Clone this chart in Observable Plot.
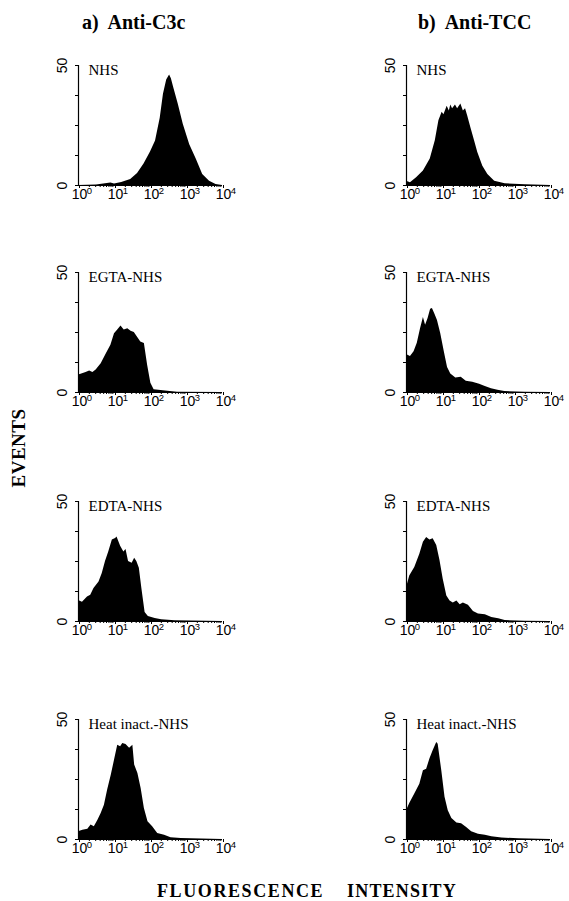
<!DOCTYPE html>
<html>
<head>
<meta charset="utf-8">
<script src="https://cdn.jsdelivr.net/npm/d3@7"></script>
<script src="https://cdn.jsdelivr.net/npm/@observablehq/plot@0.6"></script>
<style>
  html, body { margin: 0; padding: 0; background: #fff; }
  #page { position: relative; width: 569px; height: 901px; overflow: hidden; background: #fff; }
  .title { position: absolute; font-family: "Liberation Serif", "Times New Roman", serif; font-weight: bold; color: #000; white-space: pre; line-height: 1; }
  .panel { position: absolute; }
</style>
</head>
<body>
<div id="page"></div>
<script>
// ---- column / row categories ----
const columns = ["a)  Anti-C3c", "b)  Anti-TCC"];
const conditions = ["NHS", "EGTA-NHS", "EDTA-NHS", "Heat inact.-NHS"];
const xTitleWords = ["FLUORESCENCE", "INTENSITY"];
const yTitle = "EVENTS";

// ---- axis ticks ----
const majorTicks = [1, 10, 100, 1000, 10000];
const minorTicks = [2,3,4,5,6,7,8,9,20,30,40,50,60,70,80,90,200,300,400,500,600,700,800,900,2000,3000,4000,5000,6000,7000,8000,9000];
const yTicks = [0, 12.5, 25, 37.5, 50];
const yLabels = [0, 50];

// ---- series: x in decades (log10 fluorescence), y = events ----
const c3cNHS_x = [0, 0.5, 0.9, 1.0, 1.2, 1.45, 1.64, 1.82, 2.0, 2.14, 2.27, 2.36, 2.45, 2.53, 2.58, 2.64, 2.77, 2.91, 3.09, 3.27, 3.45, 3.64, 3.82, 4.0];
const c3cNHS_y = [0, 0.2, 1.0, 0.6, 1.2, 2.5, 5, 9, 14, 18.5, 28, 38, 44, 46, 44.5, 41, 34, 25.5, 17, 11, 4.6, 1.8, 0.4, 0];

const tccNHS_x = [0, 0.11, 0.28, 0.47, 0.66, 0.8, 0.9, 0.99, 1.04, 1.13, 1.19, 1.23, 1.28, 1.36, 1.42, 1.51, 1.58, 1.64, 1.7, 1.79, 1.89, 1.98, 2.12, 2.26, 2.45, 2.74, 3.3, 4.0];
const tccNHS_y = [1.8, 1.1, 3.2, 6, 11, 18.6, 27, 30.5, 29.5, 33, 31, 33.5, 32, 33.5, 32, 34, 31, 32, 29, 24, 18.6, 13.7, 8, 4.6, 1.8, 0.7, 0.3, 0];

const c3cEGTA_x = [0, 0.07, 0.21, 0.31, 0.4, 0.49, 0.63, 0.77, 0.9, 1.0, 1.09, 1.18, 1.27, 1.37, 1.46, 1.55, 1.64, 1.73, 1.83, 1.92, 2.01, 2.1, 2.29, 2.48, 2.75, 4.0];
const c3cEGTA_y = [7.3, 7.6, 8.3, 9, 8.3, 9.4, 12, 16, 19.7, 24.5, 26, 27.7, 26, 26.6, 25.5, 25, 23, 21, 20.4, 11.4, 3.9, 1.1, 0.8, 0.5, 0.15, 0];

const tccEGTA_x = [0, 0.04, 0.11, 0.21, 0.3, 0.39, 0.47, 0.53, 0.6, 0.67, 0.72, 0.79, 0.86, 0.95, 1.05, 1.14, 1.23, 1.37, 1.52, 1.66, 1.84, 2.03, 2.17, 2.36, 2.54, 2.73, 3.29, 4.0];
const tccEGTA_y = [15.8, 15.5, 15, 17, 20.5, 26.6, 31.3, 28, 30.8, 34.7, 35, 32.6, 30, 24.6, 17, 10.4, 7.7, 6, 6.4, 4.7, 4.3, 3.4, 2.6, 1.6, 0.9, 0.4, 0.1, 0];

const c3cEDTA_x = [0, 0.11, 0.25, 0.34, 0.43, 0.57, 0.66, 0.75, 0.84, 0.94, 1.03, 1.07, 1.17, 1.26, 1.32, 1.39, 1.49, 1.56, 1.62, 1.69, 1.76, 1.85, 1.94, 2.13, 2.31, 2.68, 4.0];
const c3cEDTA_y = [8.8, 8, 10.2, 10.9, 13.7, 16.5, 20, 25, 29, 34, 34.6, 35.2, 31.4, 29, 30, 25, 24.3, 26.4, 25, 22.2, 13.7, 3.8, 2.1, 1.3, 0.7, 0.3, 0];

const tccEDTA_x = [0, 0.09, 0.23, 0.37, 0.47, 0.56, 0.65, 0.74, 0.84, 0.93, 1.02, 1.12, 1.21, 1.3, 1.4, 1.49, 1.58, 1.72, 1.86, 2.0, 2.19, 2.37, 2.56, 2.74, 3.3, 4.0];
const tccEDTA_y = [14, 19, 22.5, 28, 33, 35, 34, 34.5, 31.7, 25.4, 17.6, 10.6, 8.5, 7.7, 8.5, 7, 7.7, 6.8, 4.2, 3.1, 2.8, 1.7, 1.1, 0.4, 0.1, 0];

const c3cHeat_x = [0, 0.12, 0.26, 0.35, 0.44, 0.54, 0.63, 0.72, 0.81, 0.91, 1.0, 1.09, 1.17, 1.23, 1.32, 1.42, 1.51, 1.56, 1.65, 1.74, 1.83, 1.93, 2.06, 2.2, 2.39, 2.57, 2.85, 4.0];
const c3cHeat_y = [3.2, 3.9, 4.3, 6, 5.3, 8, 10.8, 14.3, 20.6, 26.8, 33, 39.3, 38.6, 40, 39.6, 38, 39.3, 31, 27.5, 21.3, 12.9, 7.4, 5.3, 2.5, 1.8, 0.7, 0.4, 0];

const tccHeat_x = [0, 0.09, 0.23, 0.37, 0.47, 0.56, 0.65, 0.74, 0.84, 0.88, 0.98, 1.07, 1.16, 1.26, 1.4, 1.53, 1.67, 1.81, 2.0, 2.19, 2.37, 2.65, 3.12, 4.0];
const tccHeat_y = [12, 15, 19, 23, 28.6, 29.3, 33.5, 37, 40.4, 39.7, 28.6, 17.6, 12, 8.7, 6.9, 6.6, 5, 3.2, 2.2, 1.8, 1.1, 0.6, 0.3, 0];

// ---- panel list (column, condition, series) ----
const panels = [
  {col: 0, row: 0, xs: c3cNHS_x, ys: c3cNHS_y},
  {col: 1, row: 0, xs: tccNHS_x, ys: tccNHS_y},
  {col: 0, row: 1, xs: c3cEGTA_x, ys: c3cEGTA_y},
  {col: 1, row: 1, xs: tccEGTA_x, ys: tccEGTA_y},
  {col: 0, row: 2, xs: c3cEDTA_x, ys: c3cEDTA_y},
  {col: 1, row: 2, xs: tccEDTA_x, ys: tccEDTA_y},
  {col: 0, row: 3, xs: c3cHeat_x, ys: c3cHeat_y},
  {col: 1, row: 3, xs: tccHeat_x, ys: tccHeat_y}
];

// ---- layout (pixels) ----
const colLeft = [78, 406];
const rowTop = [65, 272, 501, 719];
const frameW = 144, frameH = 120;
const mL = 30, mR = 20, mT = 10, mB = 26;

const page = document.getElementById("page");
const serif = '"Liberation Serif", "Times New Roman", serif';
const sans = '"Liberation Sans", Arial, sans-serif';

for (const p of panels) {
  const data = p.xs.map((lx, i) => ({fl: Math.pow(10, lx), events: p.ys[i]}));
  const chart = Plot.plot({
    width: mL + frameW + mR,
    height: mT + frameH + mB,
    marginLeft: mL, marginRight: mR, marginTop: mT, marginBottom: mB,
    style: {background: "transparent", color: "#000", fontFamily: sans, fontSize: "13px", overflow: "visible"},
    x: {type: "log", domain: [1, 10000], label: null},
    y: {domain: [0, 50], label: null},
    marks: [
      Plot.areaY(data, {x: "fl", y: "events", fill: "#000", curve: "linear"}),
      Plot.ruleX([1], {stroke: "#000", strokeWidth: 1.2}),
      Plot.ruleY([0], {stroke: "#000", strokeWidth: 1.2}),
      Plot.axisY({ticks: yTicks, tickSize: 3, tickFormat: () => "", stroke: "#000"}),
      Plot.axisX({ticks: minorTicks, tickSize: 2, tickFormat: () => "", stroke: "#000"}),
      // "10" base of each decade label
      Plot.axisX({ticks: majorTicks, tickSize: 3, tickPadding: 1, stroke: "#000", fill: "#000",
                  fontSize: 14, dx: 1, tickFormat: () => "10"}),
      // exponent of each decade label
      Plot.axisX({ticks: majorTicks, tickSize: 0, tickPadding: 2, fill: "#000",
                  fontSize: 9.5, dx: 11, dy: 0, textAnchor: "middle",
                  tickFormat: d => String(Math.round(Math.log10(d)))}),
      Plot.text(yLabels, {x: 1, y: d => d, text: d => String(d), rotate: -90, dx: -16,
                          textAnchor: "middle", fontSize: 14, fill: "#000", fontFamily: sans}),
      Plot.text([conditions[p.row]], {frameAnchor: "top-left", dx: 10, dy: -1, textAnchor: "start",
                          lineAnchor: "top", fontSize: 15, fontFamily: serif, fill: "#000"})
    ]
  });
  chart.classList.add("panel");
  chart.style.left = (colLeft[p.col] - mL) + "px";
  chart.style.top = (rowTop[p.row] - mT) + "px";
  page.appendChild(chart);
}

// ---- titles ----
function addText(txt, css) {
  const d = document.createElement("div");
  d.className = "title";
  d.textContent = txt;
  Object.assign(d.style, css);
  page.appendChild(d);
  return d;
}
addText(columns[0], {left: "82px", top: "12px", fontSize: "20px"});
addText(columns[1], {left: "418px", top: "12px", fontSize: "20px"});
addText(yTitle, {left: "18px", top: "448px", fontSize: "19px", letterSpacing: "0.5px",
                 transform: "translate(-50%, -50%) rotate(-90deg)"});
addText(xTitleWords[0], {left: "157px", top: "882px", fontSize: "18px", letterSpacing: "1.6px"});
addText(xTitleWords[1], {left: "347px", top: "882px", fontSize: "18px", letterSpacing: "1.2px"});
</script>
</body>
</html>
